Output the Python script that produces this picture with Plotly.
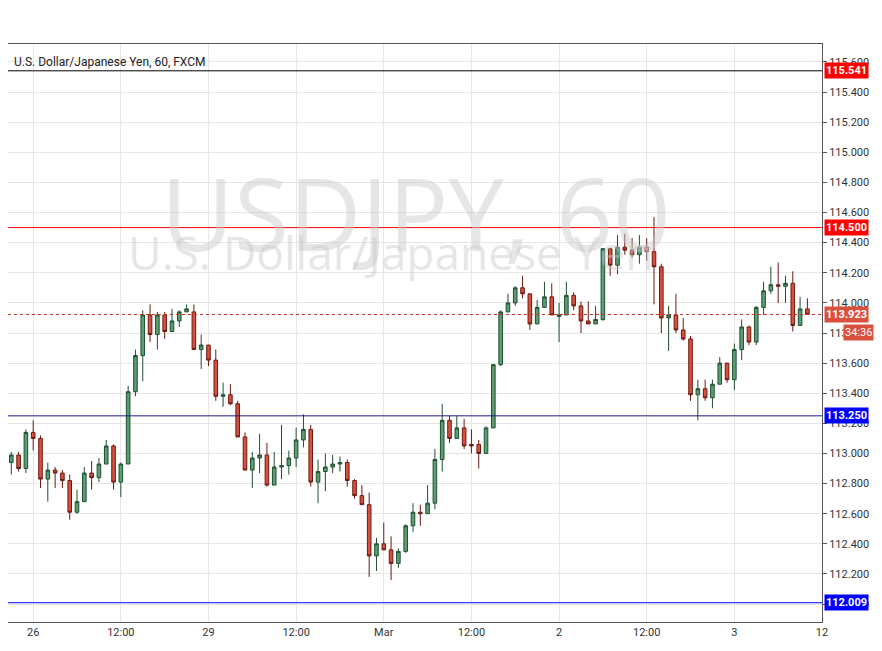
import plotly.graph_objects as go

# hourly USD/JPY candles (open, high, low, close)
opens = [112.94, 112.99, 112.90, 113.14, 113.10, 112.83, 112.89, 112.87, 112.82, 112.61,
         112.68, 112.87, 112.84, 112.93, 113.05, 112.81, 112.93, 113.41, 113.65, 113.92,
         113.79, 113.92, 113.81, 113.88, 113.94, 113.94, 113.69, 113.72, 113.62, 113.38,
         113.39, 113.33, 113.11, 112.89, 112.97, 112.99, 112.79, 112.91, 112.92, 112.97,
         113.09, 113.16, 112.81, 112.88, 112.91, 112.93, 112.94, 112.82, 112.72, 112.66,
         112.32, 112.40, 112.36, 112.27, 112.35, 112.52, 112.61, 112.60, 112.67, 112.96,
         113.22, 113.10, 113.17, 113.06, 113.06, 113.00, 113.17, 113.59, 113.94, 114.00,
         114.10, 114.06, 113.86, 113.97, 114.04, 113.91, 113.92, 114.05, 113.98, 113.88,
         113.86, 113.89, 114.36, 114.25, 114.37, 114.35, 114.32, 114.37, 114.34, 114.24,
         113.90, 113.92, 113.82, 113.76, 113.39, 113.43, 113.37, 113.46, 113.60, 113.49,
         113.69, 113.84, 113.74, 113.97, 114.08, 114.12, 114.11, 114.13, 113.85, 113.96]
highs = [113.01, 113.01, 113.16, 113.22, 113.12, 112.94, 112.91, 112.89, 112.86, 112.76,
         112.91, 112.95, 112.97, 113.09, 113.06, 112.94, 113.45, 113.69, 113.95, 113.99,
         113.94, 113.94, 113.96, 113.95, 113.99, 113.99, 113.79, 113.72, 113.69, 113.47,
         113.46, 113.35, 113.14, 113.01, 113.13, 113.07, 113.01, 113.19, 113.02, 113.17,
         113.26, 113.19, 112.96, 113.00, 112.99, 112.98, 112.96, 112.83, 112.79, 112.74,
         112.44, 112.54, 112.45, 112.37, 112.53, 112.67, 112.66, 112.79, 113.03, 113.33,
         113.25, 113.25, 113.23, 113.16, 113.09, 113.18, 113.59, 113.95, 114.06, 114.11,
         114.18, 114.06, 114.02, 114.14, 114.13, 114.00, 114.14, 114.07, 114.01, 114.01,
         113.98, 114.36, 114.36, 114.45, 114.46, 114.43, 114.45, 114.43, 114.57, 114.26,
         113.98, 114.06, 113.90, 113.78, 113.49, 113.49, 113.49, 113.64, 113.60, 113.73,
         113.89, 113.85, 113.98, 114.14, 114.24, 114.27, 114.18, 114.21, 114.04, 114.03]
lows = [112.86, 112.88, 112.87, 113.02, 112.77, 112.68, 112.77, 112.77, 112.56, 112.60,
        112.68, 112.76, 112.81, 112.93, 112.76, 112.71, 112.93, 113.38, 113.48, 113.74,
        113.69, 113.76, 113.81, 113.84, 113.94, 113.69, 113.56, 113.58, 113.35, 113.31,
        113.32, 113.11, 112.89, 112.77, 112.87, 112.78, 112.79, 112.83, 112.86, 112.91,
        113.04, 112.78, 112.67, 112.75, 112.87, 112.88, 112.78, 112.70, 112.66, 112.18,
        112.22, 112.36, 112.16, 112.24, 112.34, 112.48, 112.52, 112.60, 112.63, 112.88,
        113.07, 113.10, 113.03, 113.00, 112.90, 113.00, 113.17, 113.58, 113.94, 113.98,
        114.03, 113.82, 113.86, 113.97, 113.92, 113.74, 113.92, 113.95, 113.80, 113.86,
        113.86, 113.88, 114.18, 114.19, 114.32, 114.30, 114.26, 114.28, 113.99, 113.80,
        113.68, 113.80, 113.75, 113.35, 113.22, 113.35, 113.30, 113.46, 113.47, 113.42,
        113.62, 113.72, 113.72, 113.92, 114.06, 114.00, 114.00, 113.81, 113.85, 113.92]
closes = [112.99, 112.90, 113.14, 113.10, 112.83, 112.89, 112.87, 112.82, 112.61, 112.68,
          112.87, 112.84, 112.93, 113.05, 112.81, 112.93, 113.41, 113.65, 113.92, 113.79,
          113.92, 113.81, 113.88, 113.94, 113.96, 113.69, 113.72, 113.62, 113.38, 113.39,
          113.33, 113.11, 112.89, 112.97, 112.99, 112.79, 112.91, 112.92, 112.97, 113.09,
          113.16, 112.81, 112.88, 112.91, 112.93, 112.94, 112.82, 112.72, 112.66, 112.32,
          112.40, 112.36, 112.27, 112.35, 112.52, 112.61, 112.60, 112.67, 112.96, 113.22,
          113.10, 113.17, 113.05, 113.05, 113.00, 113.17, 113.59, 113.94, 114.00, 114.10,
          114.06, 113.86, 113.97, 114.04, 113.92, 113.92, 114.05, 113.98, 113.88, 113.86,
          113.89, 114.36, 114.25, 114.37, 114.35, 114.32, 114.37, 114.34, 114.24, 113.90,
          113.92, 113.82, 113.76, 113.39, 113.43, 113.37, 113.46, 113.60, 113.49, 113.69,
          113.84, 113.74, 113.97, 114.08, 114.12, 114.11, 114.13, 113.85, 113.96, 113.923]
bars = list(range(1, len(opens) + 1))

tick_bars = [4, 16, 28, 40, 52, 64, 76, 88, 100, 112]
tick_labels = ["26", "12:00", "29", "12:00", "Mar", "12:00", "2", "12:00", "3", "12"]

levels = [115.541, 114.500, 113.250, 112.009]
level_line_colors = ["#000000", "#ff0000", "#1c1c8c", "#0000ff"]
level_label_colors = ["#ff0000", "#ff0000", "#0000ff", "#0000ff"]
last_price = 113.923
countdown = "34:36"

fig = go.Figure()
fig.add_trace(go.Candlestick(
    x=bars, open=opens, high=highs, low=lows, close=closes,
    increasing=dict(fillcolor="#5c9e72", line=dict(color="#1f4f30", width=1)),
    decreasing=dict(fillcolor="#d9503f", line=dict(color="#6b1a10", width=1)),
    whiskerwidth=0, showlegend=False, hoverinfo="skip"))

for lv, lc, bc in zip(levels, level_line_colors, level_label_colors):
    fig.add_hline(y=lv, line=dict(color=lc, width=1))
    fig.add_annotation(x=1.002, xref="paper", y=lv, yref="y", text="<b>%.3f</b>" % lv,
                       showarrow=False, xanchor="left", bgcolor=bc, borderpad=1,
                       font=dict(color="white", size=11, family="Roboto"))

fig.add_hline(y=last_price, line=dict(color="#c0392b", width=1, dash="dot"))
fig.add_annotation(x=1.002, xref="paper", y=last_price, yref="y", text="<b>%.3f</b>" % last_price,
                   showarrow=False, xanchor="left", bgcolor="#d9503f", borderpad=1,
                   font=dict(color="white", size=11, family="Roboto"))
fig.add_annotation(x=1.0, xref="paper", xshift=52, y=last_price - 0.12, yref="y", text=countdown,
                   showarrow=False, xanchor="right", bgcolor="#d9503f", borderpad=1,
                   font=dict(color="white", size=11, family="Roboto"))

# watermark
fig.add_annotation(x=0.5, y=0.83, xref="paper", yref="paper", text="USDJPY, 60",
                   showarrow=False, font=dict(size=100, color="rgba(200,200,200,0.45)", family="Open Sans"))
fig.add_annotation(x=0.47, y=0.64, xref="paper", yref="paper", text="U.S. Dollar/Japanese Yen",
                   showarrow=False, font=dict(size=46, color="rgba(200,200,200,0.45)", family="Open Sans"))
fig.add_annotation(x=0.005, y=0.985, xref="paper", yref="paper", xanchor="left", yanchor="top",
                   text="U.S. Dollar/Japanese Yen, 60, FXCM", showarrow=False,
                   font=dict(size=12, color="#222222", family="Roboto"))

fig.update_layout(
    width=866, height=635,
    margin=dict(l=0, r=52, t=36, b=21),
    paper_bgcolor="white", plot_bgcolor="white",
    xaxis=dict(range=[0.55, 112.0], tickvals=tick_bars, ticktext=tick_labels,
               showgrid=True, gridcolor="#e6e6e6", rangeslider=dict(visible=False),
               showline=True, linecolor="#555555", mirror=True, ticks="",
               tickfont=dict(size=11, color="#333333", family="Roboto")),
    yaxis=dict(range=[111.881, 115.719], side="right", dtick=0.2, tick0=111.8,
               tickformat=".3f", showgrid=True, gridcolor="#e6e6e6",
               showline=True, linecolor="#555555", mirror=True, ticks="outside",
               ticklen=4, tickcolor="#555555",
               tickfont=dict(size=11, color="#333333", family="Roboto")),
)

fig.write_html("out.html")
